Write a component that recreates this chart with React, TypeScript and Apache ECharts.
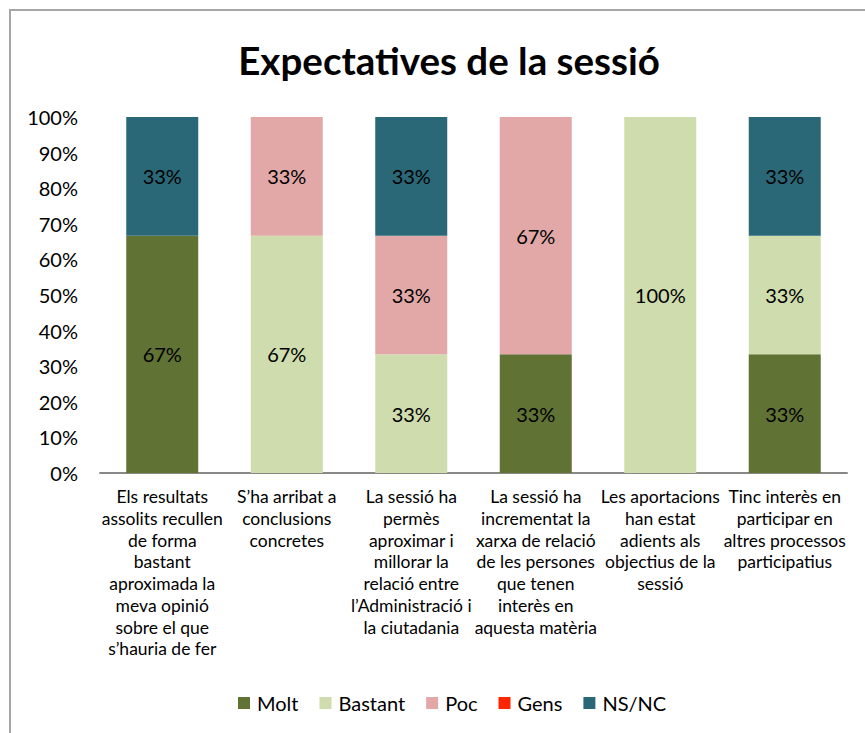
import React, { useEffect, useRef } from "react";
import * as echarts from "echarts";

const categories = [
  "Els resultats\nassolits recullen\nde forma\nbastant\naproximada la\nmeva opinió\nsobre el que\ns’hauria de fer",
  "S’ha arribat a\nconclusions\nconcretes",
  "La sessió ha\npermès\naproximar i\nmillorar la\nrelació entre\nl’Administració i\nla ciutadania",
  "La sessió ha\nincrementat la\nxarxa de relació\nde les persones\nque tenen\ninterès en\naquesta matèria",
  "Les aportacions\nhan estat\nadients als\nobjectius de la\nsessió",
  "Tinc interès en\nparticipar en\naltres processos\nparticipatius",
];

const molt = [66.67, 0, 0, 33.33, 0, 33.33];
const bastant = [0, 66.67, 33.33, 0, 100, 33.33];
const poc = [0, 33.33, 33.33, 66.67, 0, 0];
const gens = [0, 0, 0, 0, 0, 0];
const nsnc = [33.33, 0, 33.33, 0, 0, 33.33];

const yTicks = [0, 10, 20, 30, 40, 50, 60, 70, 80, 90, 100];

const seriesNames = ["Molt", "Bastant", "Poc", "Gens", "NS/NC"];
const seriesData = [molt, bastant, poc, gens, nsnc];
const colors = ["#607234", "#cedcae", "#e2a8a7", "#ff2500", "#2a6878"];

const FONT = "Lato";

export default function App() {
  const ref = useRef<HTMLDivElement>(null);
  useEffect(() => {
    if (!ref.current) return;
    const chart = echarts.init(ref.current, null, { renderer: "svg" });
    chart.setOption({
      animation: false,
      backgroundColor: "#ffffff",
      textStyle: { fontFamily: FONT },
      title: {
        text: "Expectatives de la sessió",
        left: 444,
        top: 35,
        textAlign: "center",
        textStyle: { fontFamily: FONT, fontSize: 38.5, fontWeight: "bold", color: "#000" },
      },
      graphic: [
        {
          type: "rect",
          shape: { x: 10, y: 10, width: 950, height: 850 },
          style: { fill: "none", stroke: "#a6a6a6", lineWidth: 2 },
          silent: true,
        },
      ],
      legend: {
        left: 233,
        top: 688,
        itemWidth: 12,
        itemHeight: 12,
        itemGap: 21,
        icon: "rect",
        data: seriesNames,
        textStyle: { fontFamily: FONT, fontSize: 20, color: "#000", padding: [0, 0, 0, 2] },
      },
      grid: { left: 100, right: 18, top: 117, bottom: 260, containLabel: false },
      xAxis: {
        type: "category",
        data: categories,
        axisLine: { show: true, lineStyle: { color: "#888", width: 2 } },
        axisTick: { show: false },
        axisLabel: {
          interval: 0,
          margin: 13,
          fontFamily: FONT,
          fontSize: 17.5,
          lineHeight: 21.7,
          color: "#000",
          align: "center",
        },
      },
      yAxis: {
        type: "value",
        min: 0,
        max: 100,
        interval: 10,
        axisLine: { show: false },
        axisTick: { show: false },
        splitLine: { show: false },
        axisLabel: {
          margin: 22,
          fontFamily: FONT,
          fontSize: 20,
          color: "#000",
          formatter: (v: number) => (yTicks.includes(v) ? `${v}%` : ""),
        },
      },
      series: seriesNames.map((name, i) => ({
        name,
        type: "bar",
        stack: "total",
        barWidth: 72,
        data: seriesData[i],
        itemStyle: { color: colors[i] },
        label: {
          show: true,
          position: "inside",
          fontFamily: FONT,
          fontSize: 20,
          color: "#000",
          formatter: (p: any) => (p.value > 0 ? `${Math.round(p.value)}%` : ""),
        },
      })),
    });
    return () => chart.dispose();
  }, []);
  return (
    <div
      ref={ref}
      style={{ position: "absolute", left: 0, top: 0, width: 865, height: 733 }}
    />
  );
}
